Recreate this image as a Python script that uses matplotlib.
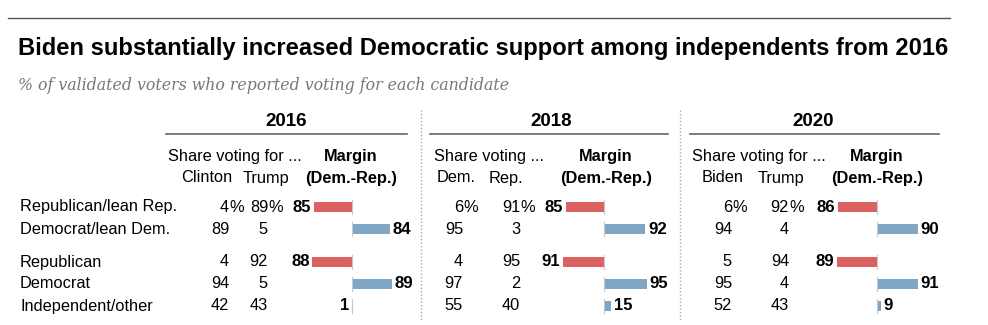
import matplotlib
matplotlib.use('Agg')
import matplotlib.pyplot as plt

# 데이터
years = ['2016', '2018', '2020']
share_heads = ['Share voting for ...', 'Share voting ...', 'Share voting for ...']
dem_names = ['Clinton', 'Dem.', 'Biden']
rep_names = ['Trump', 'Rep.', 'Trump']
groups = ['Republican/lean Rep.', 'Democrat/lean Dem.', 'Republican',
          'Democrat', 'Independent/other']

dem_2016 = [4, 89, 4, 94, 42]
rep_2016 = [89, 5, 92, 5, 43]
margin_2016 = [-85, 84, -88, 89, -1]

dem_2018 = [6, 95, 4, 97, 55]
rep_2018 = [91, 3, 95, 2, 40]
margin_2018 = [-85, 92, -91, 95, 15]

dem_2020 = [6, 94, 5, 95, 52]
rep_2020 = [92, 4, 94, 4, 43]
margin_2020 = [-86, 90, -89, 91, 9]

dems = [dem_2016, dem_2018, dem_2020]
reps = [rep_2016, rep_2018, rep_2020]
margins = [margin_2016, margin_2018, margin_2020]

title = 'Biden substantially increased Democratic support among independents from 2016'
subtitle = '% of validated voters who reported voting for each candidate'

# 레이아웃 (픽셀)
W, H = 988, 325
row_pos = [0, 1, 2.5, 3.5, 4.5]
row_px = 22            # 한 행 간격
row0 = 207             # 첫 행 y
zero_px = [352, 604, 877]
dem_col = [229, 463, 732]
rep_col = [268, 520, 789]
dem_head = [207, 456, 723]
rep_head = [266, 506, 781]
share_x = [168, 434, 692]
margin_head = [351, 606, 877]
year_x = [286, 551, 813]
rule_x = [(166, 407), (430, 668), (690, 939)]
sep_x = [421, 680]

RED = '#dc6161'
BLUE = '#7fa6c4'
FONT = 'Liberation Sans'
FS = 11.8

plt.rcParams['font.family'] = FONT
fig = plt.figure(figsize=(W / 100, H / 100), dpi=100)
ov = fig.add_axes([0, 0, 1, 1])
ov.set_xlim(0, W)
ov.set_ylim(H, 0)
ov.axis('off')

# 상단 선, 제목
ov.plot([8, 950], [18, 18], color='#555555', lw=1)
t = ov.text(18, 49, title, fontweight='bold', fontsize=16, va='center')
renderer = fig.canvas.get_renderer()
w = t.get_window_extent(renderer).width
t.set_fontsize(16 * 927 / w)   # 제목 폭 맞추기
ov.text(18, 85, subtitle, family='DejaVu Serif', style='italic', color='#777777',
        fontsize=11.3, va='center')

# 구분 점선
for x in sep_x:
    ov.plot([x, x], [110, 320], color='#aaaaaa', lw=1, linestyle=(0, (1, 1.5)))

# 행 라벨
for g, p in zip(groups, row_pos):
    ov.text(20, row0 + p * row_px, g, fontsize=FS, va='center')

scale = 0.45   # px per point
half = 70      # px
for k in range(3):
    ov.text(year_x[k], 122, years[k], fontsize=13.5, fontweight='bold', ha='center', va='center')
    ov.plot(rule_x[k], [134, 134], color='#666666', lw=1.2)
    ov.text(share_x[k], 157, share_heads[k], fontsize=FS, va='center')
    ov.text(dem_head[k], 178, dem_names[k], fontsize=FS, ha='center', va='center')
    ov.text(rep_head[k], 178, rep_names[k], fontsize=FS, ha='center', va='center')
    ov.text(margin_head[k], 157, 'Margin', fontsize=FS, fontweight='bold', ha='center', va='center')
    ov.text(margin_head[k], 178, '(Dem.-Rep.)', fontsize=FS, fontweight='bold', ha='center', va='center')

    for i, p in enumerate(row_pos):
        y = row0 + p * row_px
        ov.text(dem_col[k], y, str(dems[k][i]), fontsize=FS, ha='right', va='center')
        ov.text(rep_col[k], y, str(reps[k][i]), fontsize=FS, ha='right', va='center')
        if i == 0:
            ov.text(dem_col[k], y, '%', fontsize=FS, ha='left', va='center')
            ov.text(rep_col[k], y, '%', fontsize=FS, ha='left', va='center')

    # 마진 막대
    top = row0 - 0.55 * row_px
    bot = row0 + 5.05 * row_px
    ax = fig.add_axes([(zero_px[k] - half) / W, (H - bot) / H, 2 * half / W, (bot - top) / H])
    ax.set_xlim(-half / scale, half / scale)
    ax.set_ylim(5.05, -0.55)
    ax.axis('off')
    m = margins[k]
    colors = [RED if v < 0 else BLUE for v in m]
    ax.barh(row_pos, m, height=0.45, color=colors)
    for v, p in zip(m, row_pos):
        ax.plot([0, 0], [p - 0.3, p + 0.3], color='#c8c8c8', lw=0.8)
        if v < 0:
            ax.annotate(str(abs(v)), xy=(v, p), xytext=(-2, 0), textcoords='offset points',
                        ha='right', va='center', fontsize=FS + 0.3, fontweight='bold')
        else:
            ax.annotate(str(v), xy=(v, p), xytext=(2, 0), textcoords='offset points',
                        ha='left', va='center', fontsize=FS + 0.3, fontweight='bold')

fig.savefig('out.png', dpi=100)
plt.close()
